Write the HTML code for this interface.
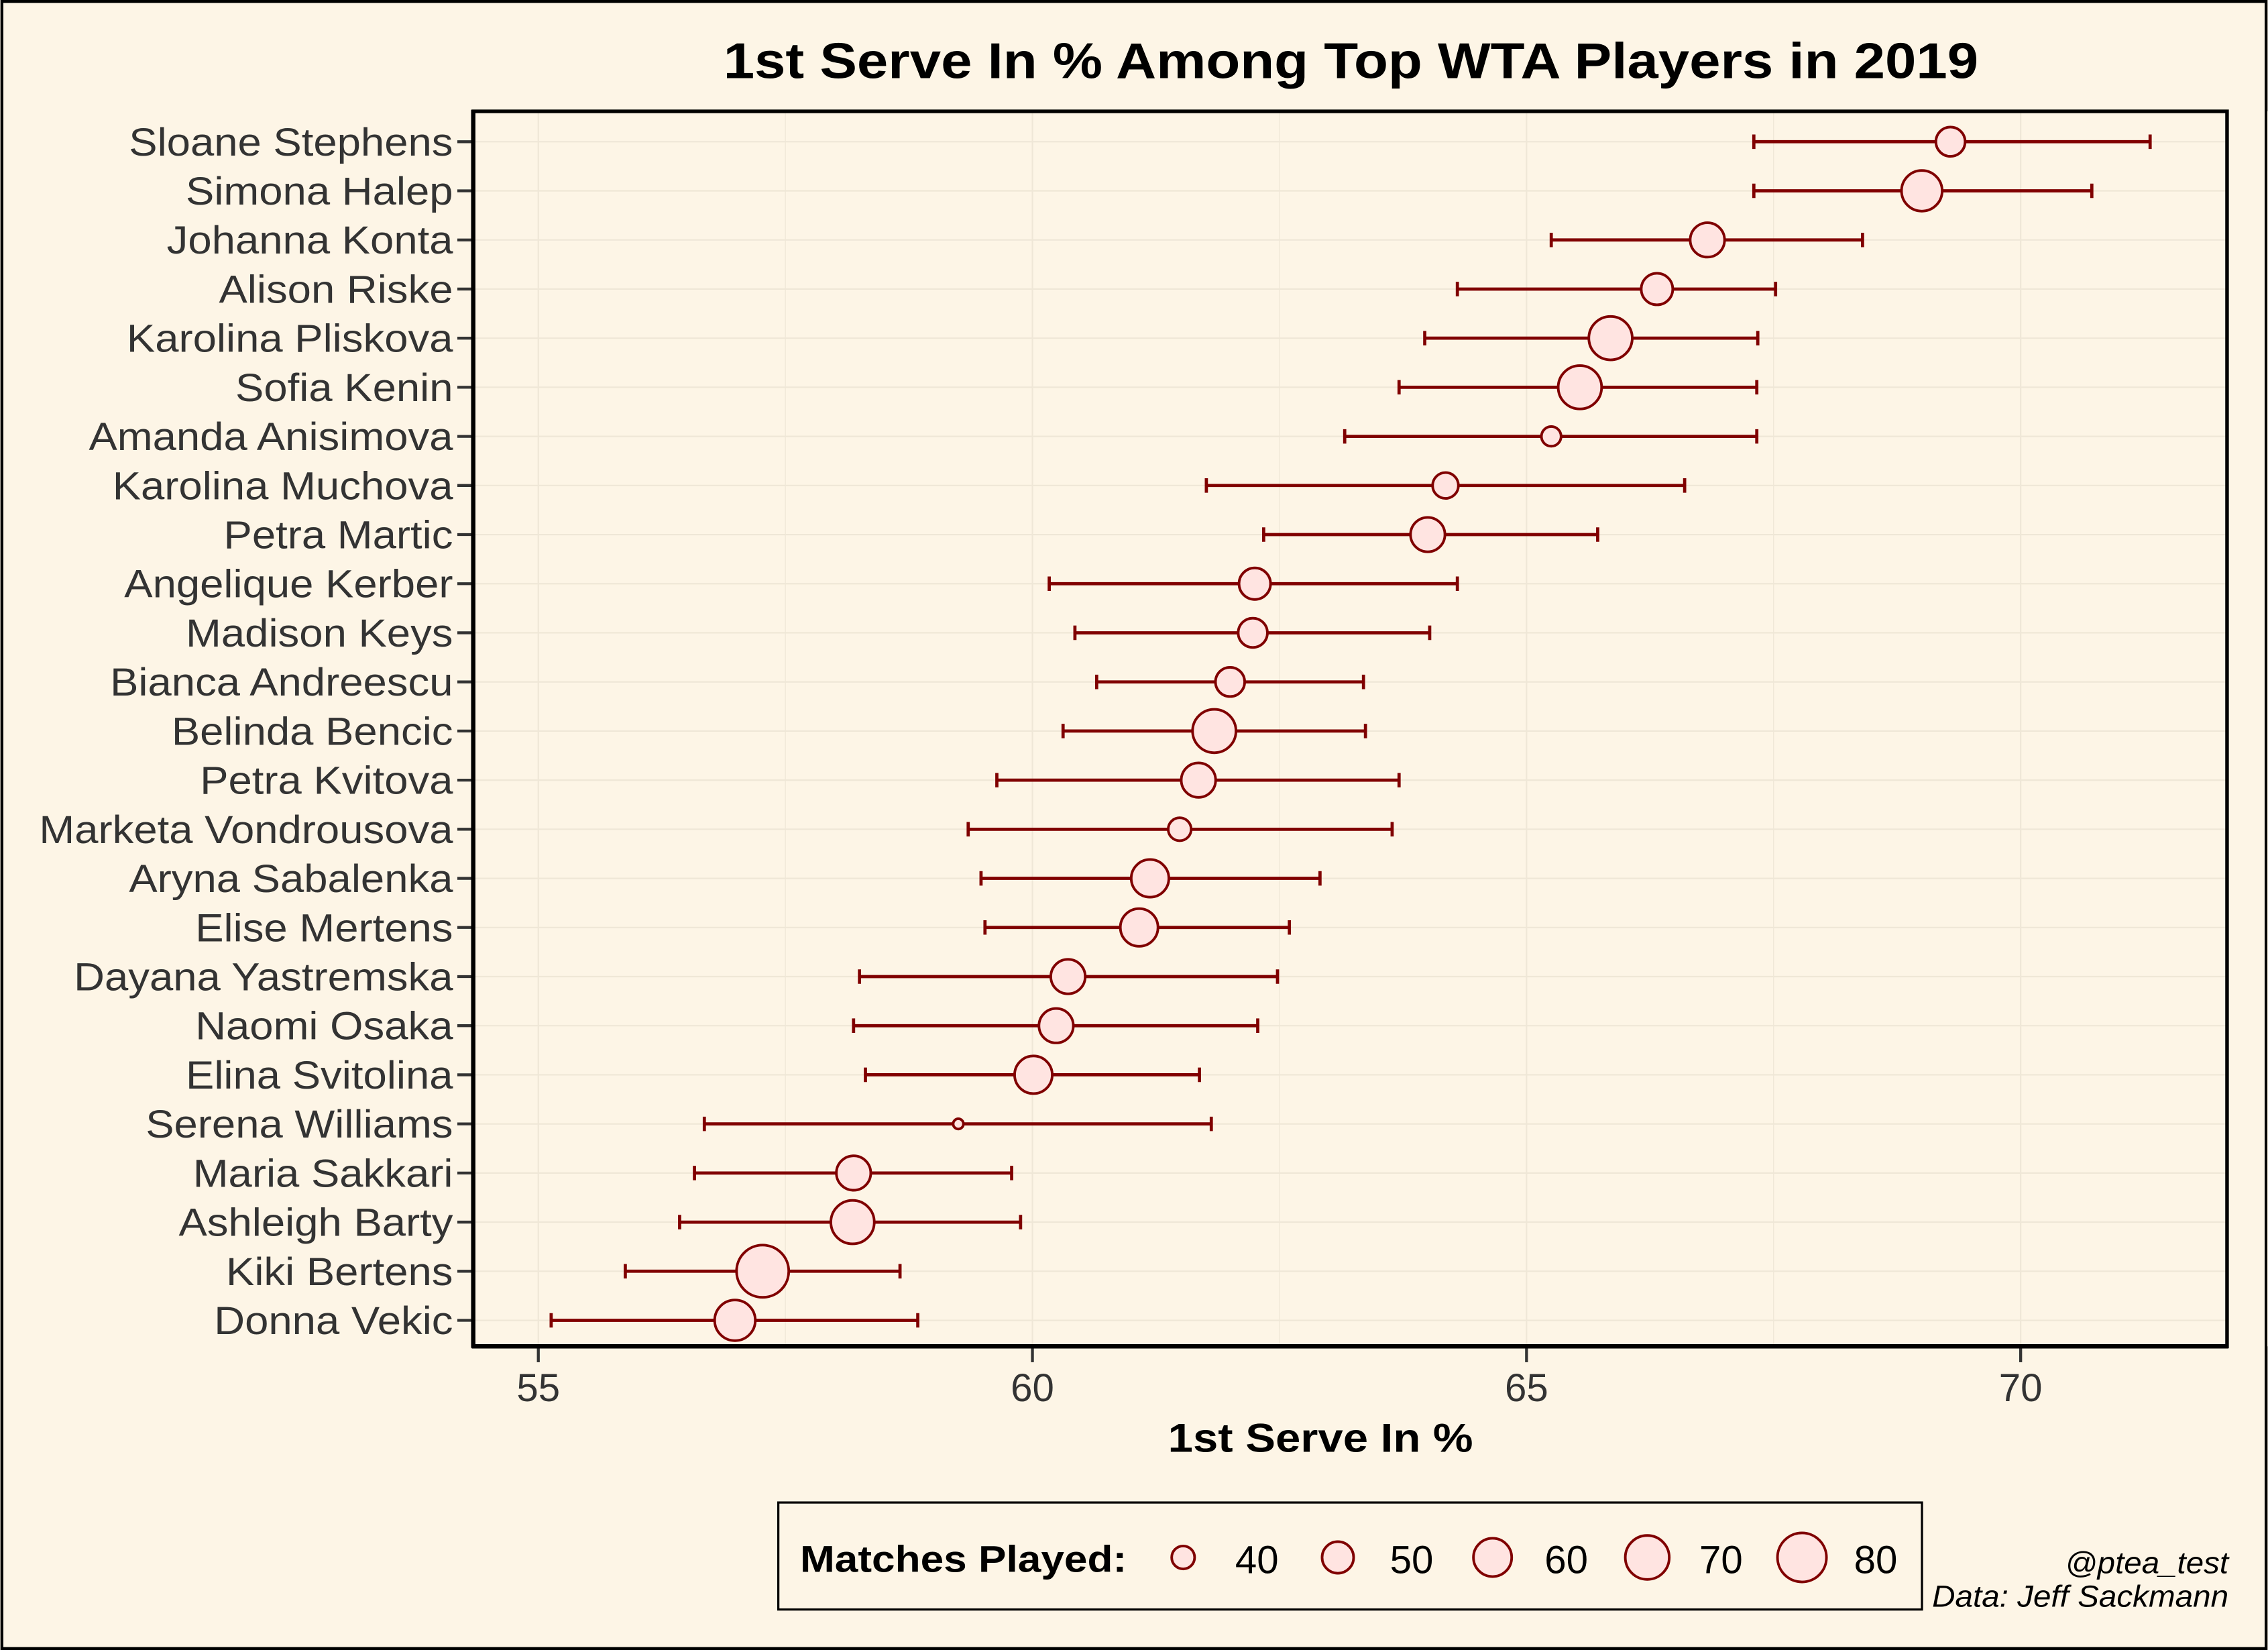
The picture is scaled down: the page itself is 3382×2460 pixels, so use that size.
<!DOCTYPE html>
<html><head><meta charset="utf-8"><style>
html,body{margin:0;padding:0;background:#fdf5e6;}
svg{display:block;font-family:"Liberation Sans",Arial,sans-serif;}
</style></head><body>
<svg id="chart" width="3382" height="2460" viewBox="0 0 1568 1141" xmlns="http://www.w3.org/2000/svg">
<rect x="1" y="1" width="1566" height="1139" fill="#fdf5e6" stroke="#000" stroke-width="2"/>
<text x="934" y="54" text-anchor="middle" font-size="35" font-weight="bold" textLength="868" lengthAdjust="spacingAndGlyphs">1st Serve In % Among Top WTA Players in 2019</text>
<g id="grid"></g>
<g id="marks"></g>
<g id="axes"></g>
<rect x="327" y="77" width="1213" height="854" fill="none" stroke="#000" stroke-width="2.5"/>
<line x1="326" y1="931" x2="1541" y2="931" stroke="#000" stroke-width="3"/>
<line x1="327" y1="76" x2="327" y2="932" stroke="#000" stroke-width="3"/>
<text x="913" y="1004" text-anchor="middle" font-size="28" font-weight="bold" textLength="211" lengthAdjust="spacingAndGlyphs">1st Serve In %</text>
<g>
<rect x="538" y="1039" width="791" height="74" fill="none" stroke="#000" stroke-width="1.5"/>
<text x="553" y="1087" font-size="26" font-weight="bold" textLength="226" lengthAdjust="spacingAndGlyphs">Matches Played:</text>
<g id="legend-keys"></g>
</g>
<text x="1541" y="1088" text-anchor="end" font-size="21" font-style="italic" textLength="113" lengthAdjust="spacingAndGlyphs">@ptea_test</text>
<text x="1541" y="1111" text-anchor="end" font-size="21" font-style="italic" textLength="205" lengthAdjust="spacingAndGlyphs">Data: Jeff Sackmann</text>
</svg>
<script>
const players = ["Sloane Stephens","Simona Halep","Johanna Konta","Alison Riske","Karolina Pliskova","Sofia Kenin","Amanda Anisimova","Karolina Muchova","Petra Martic","Angelique Kerber","Madison Keys","Bianca Andreescu","Belinda Bencic","Petra Kvitova","Marketa Vondrousova","Aryna Sabalenka","Elise Mertens","Dayana Yastremska","Naomi Osaka","Elina Svitolina","Serena Williams","Maria Sakkari","Ashleigh Barty","Kiki Bertens","Donna Vekic"];
const meanPct = [69.29,69.0,66.83,66.32,65.85,65.54,65.25,64.18,64.0,62.25,62.23,62.0,61.84,61.68,61.49,61.19,61.08,60.36,60.24,60.01,59.25,58.19,58.18,57.27,56.99];
const lowPct = [67.30,67.3,65.25,64.30,63.97,63.71,63.16,61.76,62.34,60.17,60.43,60.65,60.31,59.64,59.35,59.48,59.52,58.25,58.19,58.31,56.68,56.58,56.43,55.88,55.13];
const highPct = [71.31,70.72,68.40,67.52,67.34,67.33,67.33,66.60,65.72,64.30,64.02,63.35,63.37,63.71,63.64,62.91,62.60,62.48,62.28,61.69,61.81,59.79,59.88,58.66,58.84];
const matches = [47,64,54,50,69,69,37,43,54,50,47,47,69,54,40,59,59,54,54,59,31,54,69,87,64];
const xTicks = [55,60,65,70];
const legendSizes = [40,50,60,70,80];

const NS="http://www.w3.org/2000/svg";
const X = v => 372 + (v-55)*68.35;
const Y = i => 98 + i*33.96;
const R = n => Math.sqrt(Math.max(4, 5.6*n - 161));
function mk(tag, attrs, parent){const e=document.createElementNS(NS,tag);for(const k in attrs)e.setAttribute(k,attrs[k]);parent.appendChild(e);return e;}
const grid=document.getElementById('grid'), marks=document.getElementById('marks'), axes=document.getElementById('axes');
mk('rect',{x:327,y:77,width:1213,height:854,fill:'#fdf5e6'},grid);
for(let v=55;v<=72.5;v+=2.5){const g=mk('line',{x1:X(v),x2:X(v),y1:77,y2:931,stroke:'#efe7d7','stroke-width':(v%5===0)?1:0.6},grid);

}
players.forEach((p,i)=>{
 const y=Y(i);
 const gl=mk('line',{x1:327,x2:1540,y1:y,y2:y,stroke:'#efe7d7','stroke-width':1},grid);
 
 
 const tk=mk('line',{x1:316,x2:327,y1:y,y2:y,stroke:'#333','stroke-width':2},axes);
 
 
 const t=mk('text',{x:313,y:y+9.5,'text-anchor':'end','font-size':27,fill:'#333'},axes);
 t.textContent=p;
 
 
 const w=t.getComputedTextLength();
 t.setAttribute('textLength', w*1.09);
 t.setAttribute('lengthAdjust','spacingAndGlyphs');
 const eb=mk('path',{d:`M${X(lowPct[i])} ${y}H${X(highPct[i])}M${X(lowPct[i])} ${y-5}V${y+5}M${X(highPct[i])} ${y-5}V${y+5}`,stroke:'#800000','stroke-width':2.2,fill:'none'},marks);
 
 
 const c=mk('circle',{cx:X(meanPct[i]),cy:y,r:R(matches[i]),fill:'#ffe4e1',stroke:'#800000','stroke-width':1.8},marks);
 
 
});
xTicks.forEach(v=>{
 const tk=mk('line',{x1:X(v),x2:X(v),y1:931,y2:942,stroke:'#333','stroke-width':2},axes);
 
 
 const t=mk('text',{x:X(v),y:969,'text-anchor':'middle','font-size':27,fill:'#333'},axes);
 t.textContent=v;
 
 
});
const lk=document.getElementById('legend-keys');
legendSizes.forEach((n,i)=>{
 const cx=818+i*107;
 const c=mk('circle',{cx:cx,cy:1077,r:R(n),fill:'#ffe4e1',stroke:'#800000','stroke-width':1.8},lk);
 
 
 const t=mk('text',{x:cx+36,y:1088,'font-size':27},lk);
 t.textContent=n;
 
 
});
</script>
</body></html>
